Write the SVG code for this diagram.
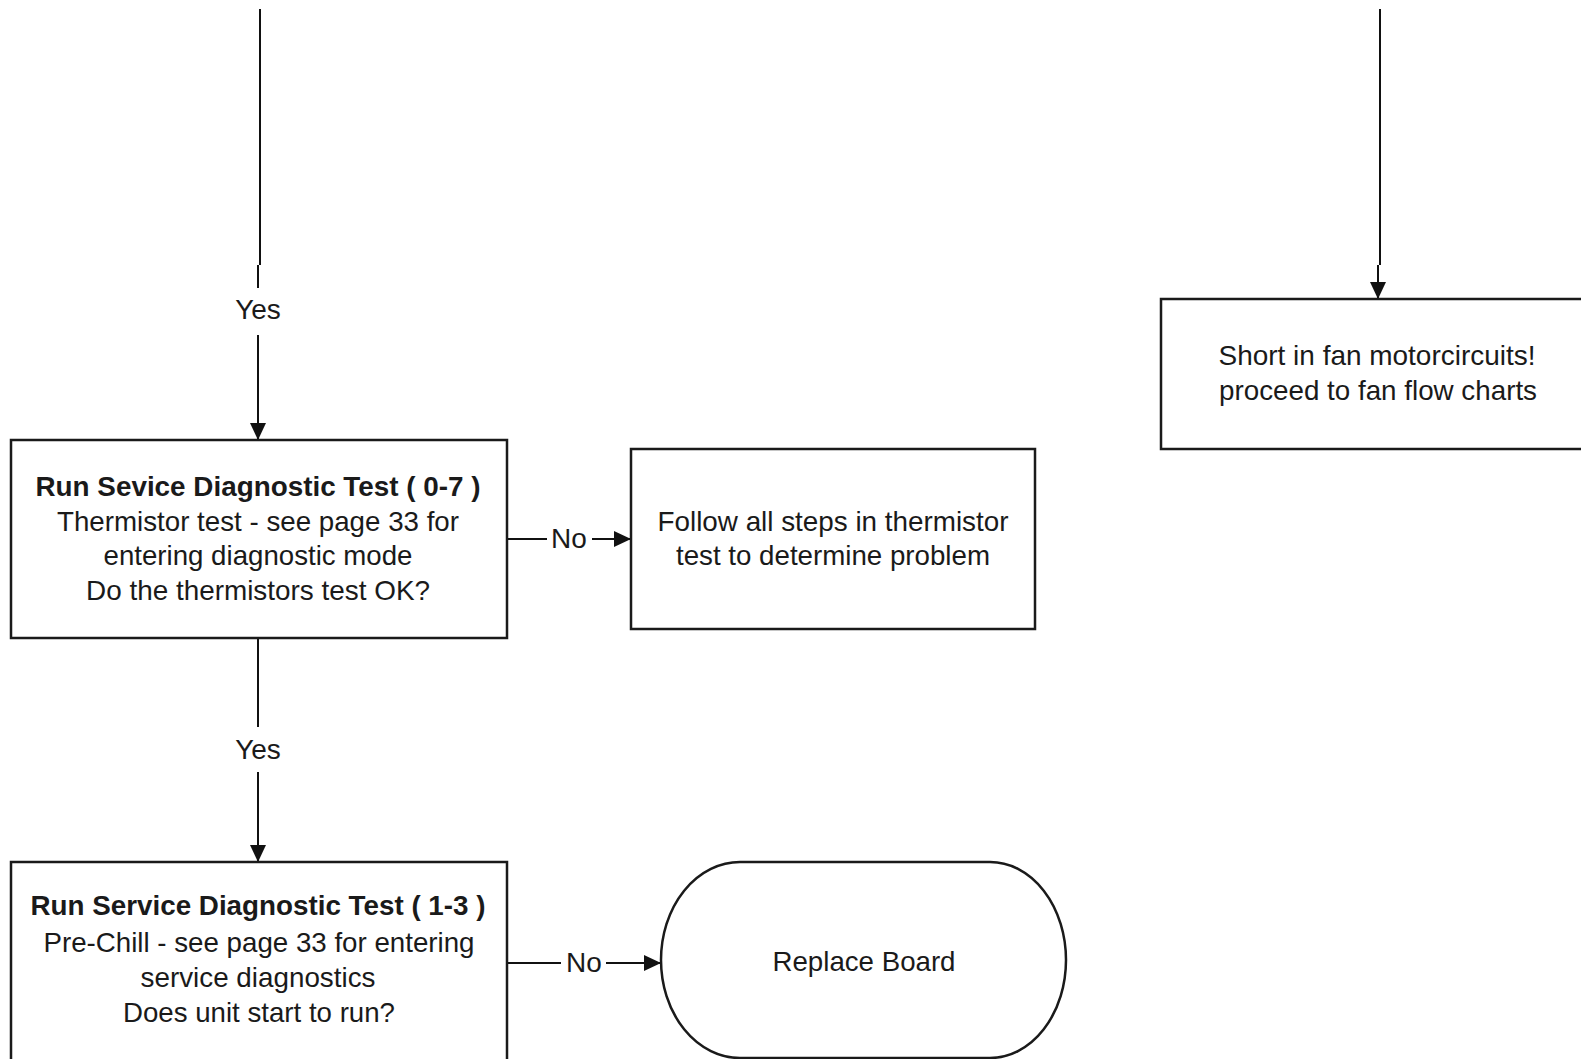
<svg xmlns="http://www.w3.org/2000/svg" width="1581" height="1059" viewBox="0 0 1581 1059">
  <style>
    .box { fill: #ffffff; stroke: #1a1a1a; stroke-width: 2.5; }
    .wire { fill: none; stroke: #111111; stroke-width: 2; }
    .t { font-family: "Liberation Sans", Arial, sans-serif; font-size: 28px; fill: #1a1a1a; text-anchor: middle; }
    .b { font-weight: bold; }
  </style>
  <defs>
    <marker id="arrow" markerUnits="userSpaceOnUse" markerWidth="20" markerHeight="18" refX="18" refY="9" orient="auto">
      <path d="M1,1 L18,9 L1,17 Z" fill="#111111"/>
    </marker>
  </defs>

  <rect width="1581" height="1059" fill="#ffffff"/>

  <!-- connectors -->
  <g id="connectors">
    <!-- incoming branch, left column -->
    <path class="wire" d="M260,9 V265"/>
    <path class="wire" d="M258,265 V288"/>
    <path class="wire" d="M258,335 V440" marker-end="url(#arrow)"/>
    <text class="t" x="258" y="319">Yes</text>

    <!-- incoming branch, right column -->
    <path class="wire" d="M1380,9 V265"/>
    <path class="wire" d="M1378,265 V299" marker-end="url(#arrow)"/>

    <!-- thermistor test: No -->
    <path class="wire" d="M507,539 H547"/>
    <path class="wire" d="M592,539 H631" marker-end="url(#arrow)"/>
    <text class="t" x="569" y="548">No</text>

    <!-- thermistor test: Yes -->
    <path class="wire" d="M258,638 V727"/>
    <path class="wire" d="M258,772 V862" marker-end="url(#arrow)"/>
    <text class="t" x="258" y="759">Yes</text>

    <!-- pre-chill test: No -->
    <path class="wire" d="M507,963 H561"/>
    <path class="wire" d="M606,963 H661" marker-end="url(#arrow)"/>
    <text class="t" x="584" y="972">No</text>
  </g>

  <!-- thermistor diagnostic step -->
  <g id="node-thermistor-test">
    <rect class="box" x="11" y="440" width="496" height="198"/>
    <text class="t b" x="258" y="496" textLength="445" lengthAdjust="spacingAndGlyphs">Run Sevice Diagnostic Test ( 0-7 )</text>
    <text class="t" x="258" y="531" textLength="402" lengthAdjust="spacingAndGlyphs">Thermistor test - see page 33 for</text>
    <text class="t" x="258" y="565" textLength="309" lengthAdjust="spacingAndGlyphs">entering diagnostic mode</text>
    <text class="t" x="258" y="600" textLength="344" lengthAdjust="spacingAndGlyphs">Do the thermistors test OK?</text>
  </g>

  <!-- thermistor follow-up -->
  <g id="node-thermistor-steps">
    <rect class="box" x="631" y="449" width="404" height="180"/>
    <text class="t" x="833" y="531" textLength="351" lengthAdjust="spacingAndGlyphs">Follow all steps in thermistor</text>
    <text class="t" x="833" y="565" textLength="314" lengthAdjust="spacingAndGlyphs">test to determine problem</text>
  </g>

  <!-- pre-chill diagnostic step -->
  <g id="node-prechill-test">
    <rect class="box" x="11" y="862" width="496" height="220"/>
    <text class="t b" x="258" y="915" textLength="455" lengthAdjust="spacingAndGlyphs">Run Service Diagnostic Test ( 1-3 )</text>
    <text class="t" x="259" y="952" textLength="431" lengthAdjust="spacingAndGlyphs">Pre-Chill - see page 33 for entering</text>
    <text class="t" x="258" y="987" textLength="235" lengthAdjust="spacingAndGlyphs">service diagnostics</text>
    <text class="t" x="259" y="1022" textLength="272" lengthAdjust="spacingAndGlyphs">Does unit start to run?</text>
  </g>

  <!-- terminal: replace board -->
  <g id="node-replace-board">
    <path class="box" d="M740,862 H990 A76,98 0 0 1 990,1058 H740 A79,98 0 0 1 740,862 Z"/>
    <text class="t" x="864" y="971" textLength="183" lengthAdjust="spacingAndGlyphs">Replace Board</text>
  </g>

  <!-- fan motor short -->
  <g id="node-fan-short">
    <rect class="box" x="1161" y="299" width="460" height="150"/>
    <text class="t" x="1377" y="365" textLength="317" lengthAdjust="spacingAndGlyphs">Short in fan motorcircuits!</text>
    <text class="t" x="1378" y="400" textLength="318" lengthAdjust="spacingAndGlyphs">proceed to fan flow charts</text>
  </g>
</svg>
